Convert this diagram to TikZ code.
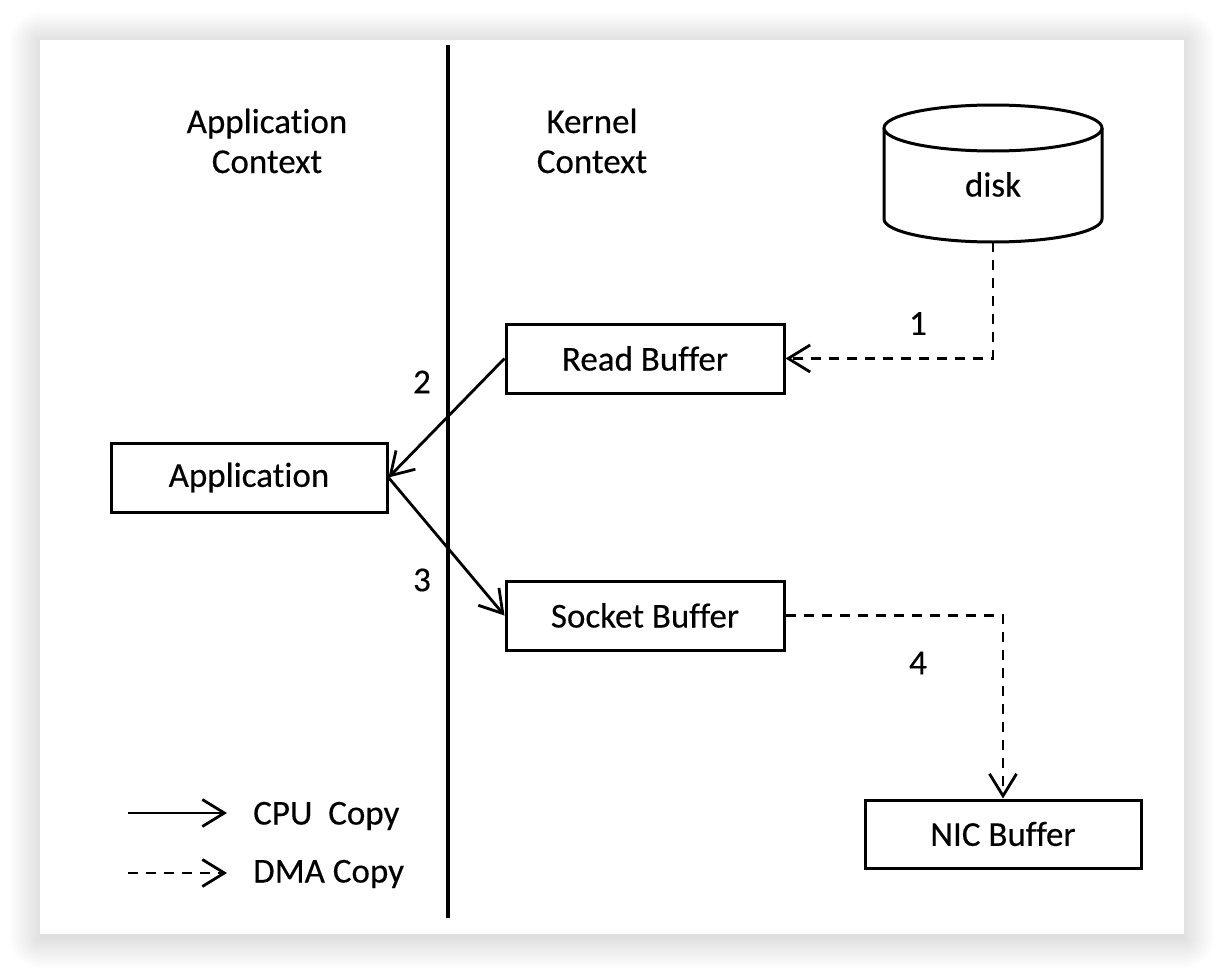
\documentclass[tikz,border=0pt]{standalone}
\usepackage{fontspec}
\setmainfont{Carlito}[FakeBold=0.3,Ligatures=CommonOff]
\usetikzlibrary{arrows.meta}
\begin{document}
\begin{tikzpicture}[x=1pt,y=-1pt,
  txt/.style={font=\fontsize{35}{40}\selectfont, inner sep=0pt, align=center},
  box/.style={txt, draw, line width=3pt, minimum width=278pt, minimum height=69pt},
  cpu/.style={line width=2.8pt, -{Straight Barb[length=22pt,width=27pt,line width=2.8pt]}},
  dma/.style={cpu, dash pattern=on 10pt off 8pt}
]
\useasboundingbox (0,0) rectangle (1224,974);
\fill[white] (0,0) rectangle (1224,974);
% shadow
\foreach \i in {0,2,...,30}{
  \fill[black, fill opacity=0.006, rounded corners=\i pt] ({40-\i},{42-\i}) rectangle ({1184+\i},{938+\i});
}
\fill[white] (40,40) rectangle (1184,934);

% divider
\draw[line width=3.2pt] (448,45) -- (448,918);

% headings
\node[txt] (apphead) at (267,141) {Application\\Context};
\node[txt] (kernhead) at (592,141) {Kernel\\Context};

% boxes
\node[box] (rb) at (645,358.5) {Read Buffer};
\node[box, minimum width=276pt] (app) at (249,477.5) {Application};
\node[box] (sb) at (645,615.5) {Socket Buffer};
\node[box, minimum width=276pt, minimum height=68pt] (nic) at (1003,834) {NIC Buffer};

% disk cylinder
\node[inner sep=0pt, minimum width=218pt, minimum height=137pt] (disk) at (993,173.5) {};
\draw[line width=3pt, fill=white] (884,128) -- (884,219) arc[start angle=180, end angle=0, x radius=109, y radius=23] -- (1102,128);
\draw[line width=3pt, fill=white] (993,128) ellipse [x radius=109, y radius=23];
\node[txt] (disktext) at (993,184.5) {disk};

% connectors
\draw[dma] (disk.south) |- (rb.east);
\draw[cpu] (rb.west) -- (app.east);
\draw[cpu] (app.east) -- (sb.west);
\draw[dma] (sb.east) -| (nic.north);

% step labels
\node[txt] (n1) at (918,323.5) {1};
\node[txt] (n2) at (422,382) {2};
\node[txt] (n3) at (422,580) {3};
\node[txt] (n4) at (918,663) {4};

% legend
\coordinate (la1) at (128,813);
\coordinate (lb1) at (227,813);
\coordinate (la2) at (128,873);
\coordinate (lb2) at (227,873);
\draw[cpu] (la1) -- (lb1);
\draw[dma] (la2) -- (lb2);
\node[txt, anchor=west] (lcpu) at (253,816) {CPU\ \ Copy};
\node[txt, anchor=west] (ldma) at (253,874) {DMA Copy};
\end{tikzpicture}
\end{document}
